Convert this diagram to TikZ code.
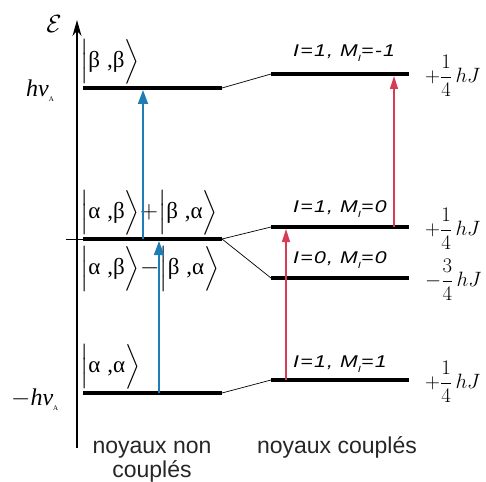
\documentclass[tikz,border=0pt]{standalone}
\usepackage{amsmath}
\usepackage{fontspec}
\setmainfont{Liberation Serif}
\setsansfont{Liberation Sans}
\newfontfamily\labfont[LetterSpace=6]{Liberation Sans}
\usetikzlibrary{arrows.meta}
\definecolor{ablue}{RGB}{30,125,180}
\definecolor{ared}{RGB}{215,60,85}
\newcommand{\myket}[2]{\ensuremath{\Bigl|\text{#1}\;\text{,#2}\Bigr\rangle}}
\newcommand{\mysubI}{\raisebox{-5pt}{\fontsize{9}{9}\selectfont I}}
\newcommand{\ilabel}[1]{\scalebox{1.25}[1]{#1}}
\begin{document}
\begin{tikzpicture}[x=1pt,y=-1pt,
  lev/.style={line width=3.5pt},
  conn/.style={line width=0.7pt},
  blueup/.style={ablue, line width=1.6pt, -{Triangle[length=14pt,width=10pt]}},
  redup/.style={ared, line width=1.2pt, -{Triangle[length=13pt,width=8pt]}},
  ketlab/.style={font=\fontsize{23}{23}\selectfont, inner sep=0pt},
  ilab/.style={font=\labfont\itshape\fontsize{17}{17}\selectfont, inner sep=0pt, anchor=base west},
  frac/.style={font=\fontsize{22}{22}\selectfont, inner sep=0pt, anchor=west},
  bottomtxt/.style={font=\sffamily\fontsize{23}{24}\selectfont, text=black!85, inner sep=0pt}
]
\useasboundingbox (0,0) rectangle (486,481);
% axis
\coordinate (axb) at (77,448);
\coordinate (axt) at (77,20);
\draw[line width=1.6pt,-{Stealth[length=16pt,width=9pt]}] (axb) -- (axt);
\node[font=\fontsize{24}{24}\selectfont, inner sep=0pt] (E) at (54,24) {$\mathcal{E}$};
% left levels
\coordinate (Lba) at (83,88);  \coordinate (Lbb) at (222,88);
\coordinate (Lma) at (83,239); \coordinate (Lmb) at (222,239);
\coordinate (Laa) at (83,393); \coordinate (Lab) at (222,393);
\coordinate (tick) at (66,239);
\draw[lev] (Lba) -- (Lbb);
\draw[lev] (Lma) -- (Lmb);
\draw[lev] (Laa) -- (Lab);
\draw[line width=1pt] (tick) -- (Lma);
% right levels
\coordinate (R1a) at (271,74);  \coordinate (R1b) at (409,74);
\coordinate (R2a) at (271,227); \coordinate (R2b) at (409,227);
\coordinate (R3a) at (271,278); \coordinate (R3b) at (409,278);
\coordinate (R4a) at (271,380); \coordinate (R4b) at (409,380);
\draw[lev] (R1a) -- (R1b);
\draw[lev] (R2a) -- (R2b);
\draw[lev] (R3a) -- (R3b);
\draw[lev] (R4a) -- (R4b);
% connectors
\draw[conn] (Lbb) -- (R1a);
\draw[conn] (Lmb) -- (R2a);
\draw[conn] (Lmb) -- (R3a);
\draw[conn] (Lab) -- (R4a);
% kets
\node[ketlab, anchor=south west] (kbb) at (80,84) {\myket{β}{β}};
\node[ketlab, anchor=south west] (kp) at (80,235) {\myket{α}{β}$+$\myket{β}{α}};
\node[ketlab, anchor=north west] (km) at (80,246) {\myket{α}{β}$-$\myket{β}{α}};
\node[ketlab, anchor=south west] (kaa) at (80,389) {\myket{α}{α}};
% blue arrows
\coordinate (b1s) at (143,239); \coordinate (b1e) at (143,90);
\coordinate (b2s) at (159,393); \coordinate (b2e) at (159,241);
\draw[blueup] (b1s) -- (b1e);
\draw[blueup] (b2s) -- (b2e);
% red arrows
\coordinate (r1s) at (286,380); \coordinate (r1e) at (286,229);
\coordinate (r2s) at (394,227); \coordinate (r2e) at (394,76);
\draw[redup] (r1s) -- (r1e);
\draw[redup] (r2s) -- (r2e);
% energy labels
\node[font=\fontsize{24}{24}\selectfont, inner sep=0pt, anchor=base west] (hnu) at (26,97) {\textit{hν}\raisebox{-5pt}{\fontsize{7}{7}\selectfont A}};
\node[font=\fontsize{24}{24}\selectfont, inner sep=0pt, anchor=base west] (mhnu) at (11,405) {$-$\textit{hν}\raisebox{-5pt}{\fontsize{7}{7}\selectfont A}};
% right labels
\node[ilab] (l1) at (293,57) {\ilabel{I=1,\ M\mysubI=-1}};
\node[ilab] (l2) at (293,212) {\ilabel{I=1,\ M\mysubI=0}};
\node[ilab] (l3) at (293,263) {\ilabel{I=0,\ M\mysubI=0}};
\node[ilab] (l4) at (293,367) {\ilabel{I=1,\ M\mysubI=1}};
\node[frac] (f1) at (425,76) {$+\dfrac{1}{4}\,hJ$};
\node[frac] (f2) at (425,229) {$+\dfrac{1}{4}\,hJ$};
\node[frac] (f3) at (425,280) {$-\dfrac{3}{4}\,hJ$};
\node[frac] (f4) at (425,382) {$+\dfrac{1}{4}\,hJ$};
% bottom text
\node[bottomtxt, anchor=base] (t1) at (152,453) {noyaux non};
\node[bottomtxt, anchor=base] (t2) at (152,477) {couplés};
\node[bottomtxt, anchor=base] (t3) at (337,453) {noyaux couplés};
\end{tikzpicture}
\end{document}
